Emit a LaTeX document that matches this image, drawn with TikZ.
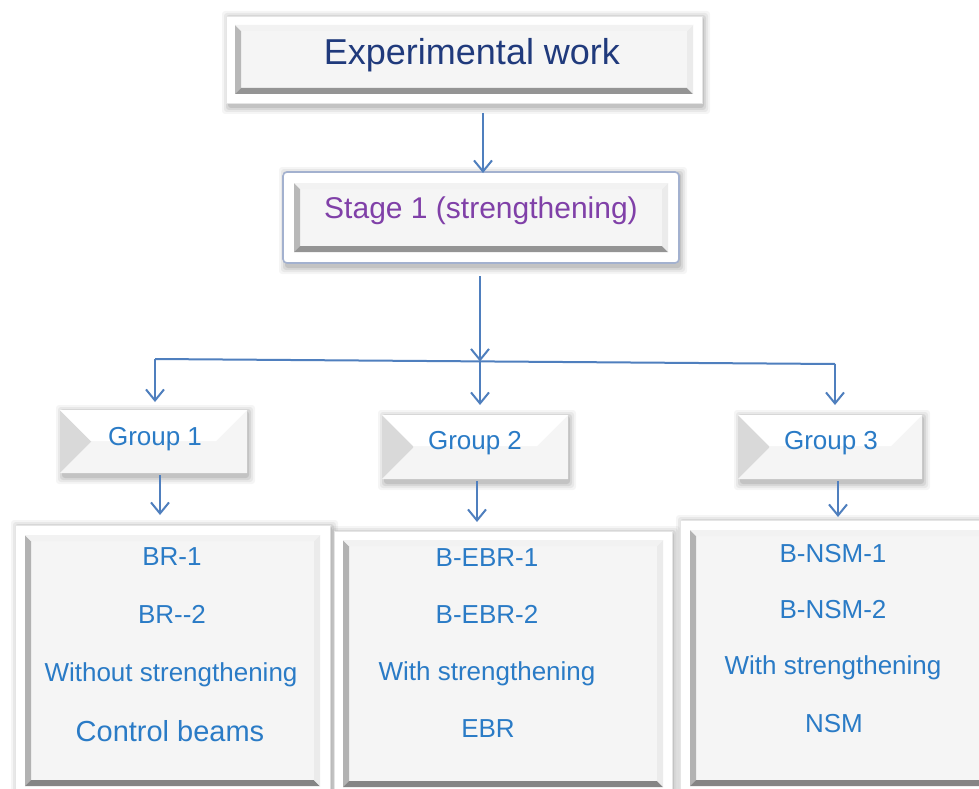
\documentclass[tikz,border=0pt]{standalone}
\usepackage{fontspec}
\setmainfont{Liberation Sans}
\usetikzlibrary{calc,arrows.meta}
\definecolor{navy}{HTML}{203A7C}
\definecolor{purp}{HTML}{8040A8}
\definecolor{tblue}{HTML}{2A7BC6}
\definecolor{lineblue}{HTML}{4F7FBE}
\definecolor{face}{HTML}{F5F5F5}
\definecolor{stageline}{HTML}{A3B1CF}
\pgfdeclarelayer{bg}
\pgfsetlayers{bg,main}
\tikzset{
  boxnode/.style={rectangle,draw=none,outer sep=0pt,inner sep=0pt},
  conn/.style={draw=lineblue,line width=2pt},
  arr/.style={conn,-{Straight Barb[length=11pt,width=18pt,line width=2pt]}},
  bt/.style={text=tblue,font=\fontsize{26}{30}\selectfont,anchor=base,inner sep=0pt},
  gt/.style={text=tblue,font=\fontsize{26}{30}\selectfont,anchor=base,inner sep=0pt}
}
% soft shadow under a rectangle given by two corners
\newcommand\softshade[2]{%
  \foreach \s/\o in {6/0.04,4/0.05,2/0.07,0/0.09}{
    \fill[black,opacity=\o,rounded corners=3pt] ($(#1)+(2-\s,1-\s)$) rectangle ($(#2)+(2+\s,5+\s)$);
  }
}
% frame + bevel panel around a box node
\newcommand\panelgfx[5]{% #1 node, #2 frame, #3 bevel, #4 frame style, #5 bevel colours (l,b,r,t)
  \coordinate (pa) at ($(#1.north west)+(-#2,-#2)$);
  \coordinate (pb) at ($(#1.south east)+(#2,#2)$);
  \softshade{pa}{pb}
  \fill[white,#4] (pa) rectangle (pb);
  \fill[face] (#1.north west) rectangle (#1.south east);
  \bevelfaces{#1}{#3}#5
}
\newcommand\bevelfaces[6]{%
  \fill[#3] (#1.north west) -- (#1.south west) -- ($(#1.south west)+(#2,-#2)$) -- ($(#1.north west)+(#2,#2)$) -- cycle;
  \fill[#4] (#1.south west) -- (#1.south east) -- ($(#1.south east)+(-#2,-#2)$) -- ($(#1.south west)+(#2,-#2)$) -- cycle;
  \fill[#5] (#1.south east) -- (#1.north east) -- ($(#1.north east)+(-#2,#2)$) -- ($(#1.south east)+(-#2,-#2)$) -- cycle;
  \fill[#6] (#1.north east) -- (#1.north west) -- ($(#1.north west)+(#2,#2)$) -- ($(#1.north east)+(-#2,#2)$) -- cycle;
}
\begin{document}
\begin{tikzpicture}[x=1pt,y=-1pt]
\useasboundingbox (0,0) rectangle (979,789);

% box geometry nodes
\node[boxnode,minimum width=458pt,minimum height=69pt] (exp) at (464,59.5) {};
\node[boxnode,minimum width=374pt,minimum height=69pt] (stage) at (481,217.5) {};
\node[boxnode,minimum width=187pt,minimum height=63pt] (g1) at (153.5,441.5) {};
\node[boxnode,minimum width=186pt,minimum height=64pt] (g2) at (475,447) {};
\node[boxnode,minimum width=184pt,minimum height=64pt] (g3) at (830,447) {};
\node[boxnode,minimum width=295pt,minimum height=251pt] (b1) at (172.5,660.5) {};
\node[boxnode,minimum width=320pt,minimum height=247pt] (b2) at (503,663.5) {};
\node[boxnode,minimum width=295pt,minimum height=256pt] (b3) at (837.5,658) {};

\begin{pgfonlayer}{bg}
  \fill[white] (0,0) rectangle (979,789);
  \panelgfx{exp}{9}{6}{draw=black!10}{{black!28}{black!42}{black!8}{black!5}}
  \panelgfx{stage}{11}{6}{draw=stageline,line width=1.6pt,rounded corners=4pt}{{black!28}{black!42}{black!8}{black!5}}
  \foreach \g in {g1,g2,g3}{
    \softshade{\g.north west}{\g.south east}
    \fill[face] (\g.north west) rectangle (\g.south east);
    \bevelfaces{\g}{31}{black!15}{black!4}{black!4}{white}
  }
  \panelgfx{b1}{10}{6}{draw=black!10}{{black!30}{black!48}{black!8}{black!5}}
  \panelgfx{b2}{9}{6}{draw=black!10}{{black!30}{black!48}{black!8}{black!5}}
  \panelgfx{b3}{10}{6}{draw=black!10}{{black!30}{black!48}{black!8}{black!5}}
\end{pgfonlayer}

% texts
\node[text=navy,font=\fontsize{36}{40}\selectfont,anchor=base,inner sep=0pt] (expt) at (472,65) {Experimental work};
\node[text=purp,font=\fontsize{30}{34}\selectfont,anchor=base,inner sep=0pt] (stt) at (481,218) {Stage 1 (strengthening)};
\node[gt] (g1t) at (155,445) {Group 1};
\node[gt] (g2t) at (475,449) {Group 2};
\node[gt] (g3t) at (831,449) {Group 3};

\node[bt] (b1a) at (172,565) {BR-1};
\node[bt] (b1b) at (172,623) {BR-{}-2};
\node[bt] (b1c) at (171,681) {Without strengthening};
\node[bt,font=\fontsize{29}{33}\selectfont] (b1d) at (170,741) {Control beams};

\node[bt] (b2a) at (487,566) {B-EBR-1};
\node[bt] (b2b) at (487,623) {B-EBR-2};
\node[bt] (b2c) at (487,680) {With strengthening};
\node[bt] (b2d) at (488,737) {EBR};

\node[bt] (b3a) at (833,562) {B-NSM-1};
\node[bt] (b3b) at (833,618) {B-NSM-2};
\node[bt] (b3c) at (833,674) {With strengthening};
\node[bt] (b3d) at (834,732) {NSM};

% connectors
\coordinate (hl) at (155,359);
\coordinate (hr) at (835,364);
\coordinate (j) at (480,361.5);
\draw[arr] ([shift={(19,19)}]exp.south) -- ([shift={(2,-10)}]stage.north);
\draw[arr] ([shift={(-1,24)}]stage.south) -- (j);
\draw[conn] (hl) -- (hr);
\draw[arr] (hl) -- ([shift={(1.5,-8)}]g1.north);
\draw[arr] (j) -- ([shift={(5,-10)}]g2.north);
\draw[arr] (hr) -- ([shift={(5,-10)}]g3.north);
\draw[arr] ([shift={(6.5,2)}]g1.south) -- ([shift={(-12.5,-20)}]b1.north);
\draw[arr] ([shift={(2,2)}]g2.south) -- ([shift={(-26,-18)}]b2.north);
\draw[arr] ([shift={(8,2)}]g3.south) -- ([shift={(0.5,-13)}]b3.north);
\end{tikzpicture}
\end{document}
